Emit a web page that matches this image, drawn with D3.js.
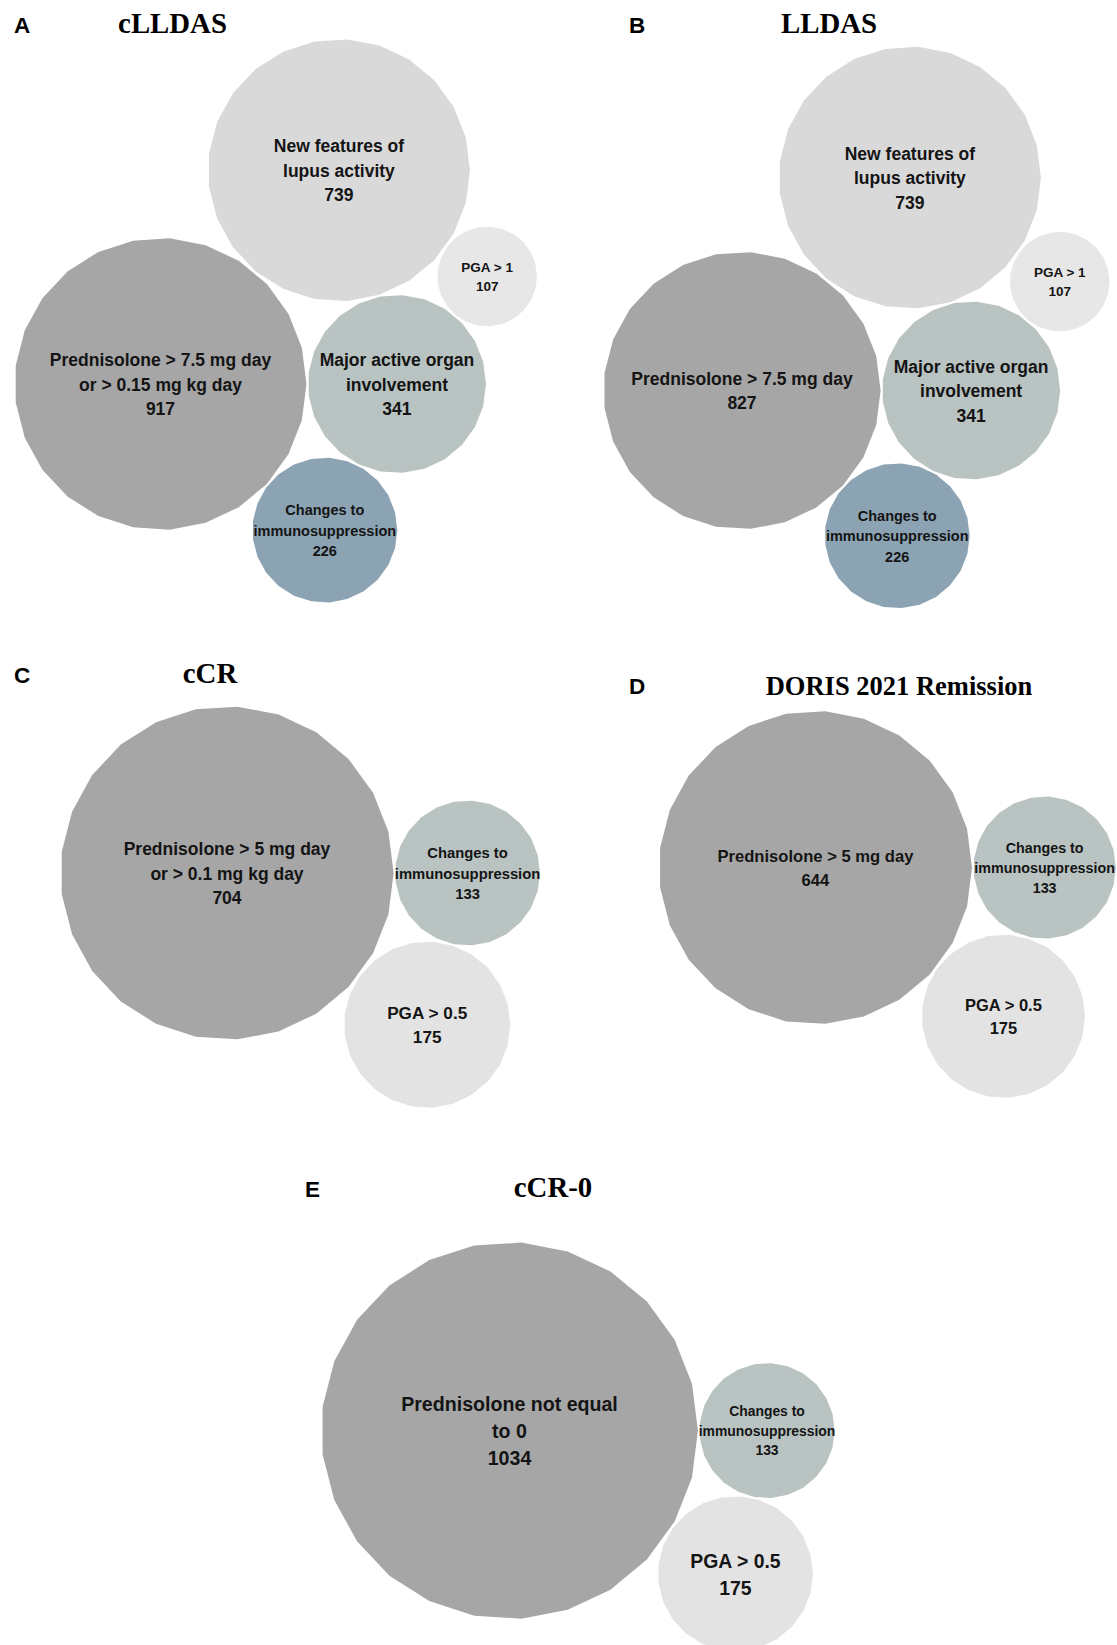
<!DOCTYPE html>
<html><head><meta charset="utf-8">
<script src="https://cdn.jsdelivr.net/npm/d3@7"></script>
<style>html,body{margin:0;padding:0;background:#fff;} svg{display:block;}</style>
</head><body>
<svg id="chart" width="1117" height="1645"></svg>
<script>
// ---------------- data ----------------
const panelLetters = ["A", "B", "C", "D", "E"];
const panelTitles = ["cLLDAS", "LLDAS", "cCR", "DORIS 2021 Remission", "cCR-0"];

const categoriesA = ["Prednisolone > 7.5 mg day\nor > 0.15 mg kg day", "Major active organ\ninvolvement", "New features of\nlupus activity", "Changes to\nimmunosuppression", "PGA > 1"];
const valuesA = [917, 341, 739, 226, 107];

const categoriesB = ["Prednisolone > 7.5 mg day", "Major active organ\ninvolvement", "New features of\nlupus activity", "Changes to\nimmunosuppression", "PGA > 1"];
const valuesB = [827, 341, 739, 226, 107];

const categoriesC = ["Prednisolone > 5 mg day\nor > 0.1 mg kg day", "Changes to\nimmunosuppression", "PGA > 0.5"];
const valuesC = [704, 133, 175];

const categoriesD = ["Prednisolone > 5 mg day", "Changes to\nimmunosuppression", "PGA > 0.5"];
const valuesD = [644, 133, 175];

const categoriesE = ["Prednisolone not equal\nto 0", "Changes to\nimmunosuppression", "PGA > 0.5"];
const valuesE = [1034, 133, 175];

// ---------------- style / layout ----------------
const C = {
  pred: "#a6a6a6", major: "#b9c3c1", nf: "#d9d9d9",
  chBlue: "#8ba3b3", chGrey: "#b9c3c1", pga1: "#e7e7e7", pga05: "#e3e3e3"
};
// layout rules: first circle at anchor; {right:i} = tangent to the right of circle i;
// {between:[i,j], side} = tangent to both circles i and j
const bigLayout = [null, {right: 0}, {between: [0, 1], side: -1}, {between: [0, 1], side: 1}, {between: [2, 1], side: -1}];
const smallLayout = [null, {right: 0}, {between: [0, 1], side: 1}];

const panels = [
  {cats: categoriesA, vals: valuesA, unit: 4.82, anchor: [160.5, 384], letterPos: [14, 33], titlePos: [172.5, 33], titleSize: 28.8,
   layout: bigLayout, fills: [C.pred, C.major, C.nf, C.chBlue, C.pga1], fonts: [17.5, 17.5, 17.5, 14.5, 13.5]},
  {cats: categoriesB, vals: valuesB, unit: 4.82, anchor: [742, 390.5], letterPos: [629, 33], titlePos: [829, 33], titleSize: 28.8,
   layout: bigLayout, fills: [C.pred, C.major, C.nf, C.chBlue, C.pga1], fonts: [17.5, 17.5, 17.5, 14.5, 13.5]},
  {cats: categoriesC, vals: valuesC, unit: 6.28, anchor: [227, 873], letterPos: [14, 683], titlePos: [210, 683], titleSize: 28.8,
   layout: smallLayout, fills: [C.pred, C.chGrey, C.pga05], fonts: [17.5, 14.8, 17.2]},
  {cats: categoriesD, vals: valuesD, unit: 6.17, anchor: [815.4, 867.6], letterPos: [629, 694], titlePos: [899, 695], titleSize: 26.5,
   layout: smallLayout, fills: [C.pred, C.chGrey, C.pga05], fonts: [16.6, 14.3, 16.5]},
  {cats: categoriesE, vals: valuesE, unit: 5.86, anchor: [509.5, 1430.6], letterPos: [305, 1197], titlePos: [553, 1197], titleSize: 28.8,
   layout: smallLayout, fills: [C.pred, C.chGrey, C.pga05], fonts: [19.6, 13.9, 19.4]}
];

const GAP = 1.5;
const NSIDES = 25;

const svg = d3.select("#chart");
svg.append("rect").attr("width", 1117).attr("height", 1645).attr("fill", "#fff");

function tangentTo2(a, b, r, side) {
  const dx = b.x - a.x, dy = b.y - a.y, d = Math.hypot(dx, dy);
  const ra = a.r + r + GAP, rb = b.r + r + GAP;
  const t = (ra * ra - rb * rb + d * d) / (2 * d);
  const h = Math.sqrt(Math.max(0, ra * ra - t * t));
  const ux = dx / d, uy = dy / d;
  return {x: a.x + t * ux - side * h * uy, y: a.y + t * uy + side * h * ux};
}

const polyLine = d3.line().curve(d3.curveLinearClosed);

panels.forEach((p, pi) => {
  const rScale = d3.scaleSqrt().domain([0, 1000]).range([0, p.unit * Math.sqrt(1000)]);
  const nodes = p.vals.map((v, i) => ({v, r: rScale(v), label: p.cats[i], fill: p.fills[i], fs: p.fonts[i]}));
  nodes.forEach((n, i) => {
    const rule = p.layout[i];
    if (!rule) { n.x = p.anchor[0]; n.y = p.anchor[1]; }
    else if (rule.right !== undefined) {
      const a = nodes[rule.right];
      n.x = a.x + a.r + n.r + GAP; n.y = a.y;
    } else {
      const pos = tangentTo2(nodes[rule.between[0]], nodes[rule.between[1]], n.r, rule.side);
      n.x = pos.x; n.y = pos.y;
    }
  });

  const g = svg.append("g");
  g.selectAll("path.bubble").data(nodes).join("path")
    .attr("class", "bubble")
    .attr("fill", d => d.fill)
    .attr("d", d => polyLine(d3.range(NSIDES).map(k => {
      const ang = 2 * Math.PI * k / NSIDES;
      return [d.x + d.r * Math.cos(ang), d.y + d.r * Math.sin(ang)];
    })));

  nodes.forEach(d => {
    const lines = d.label.split("\n").concat([String(d.v)]);
    const lh = d.fs * 1.4;
    const t = g.append("text")
      .attr("text-anchor", "middle")
      .attr("font-family", "'Liberation Sans', Arial, sans-serif")
      .attr("font-weight", "bold")
      .attr("font-size", d.fs)
      .attr("fill", "#141414");
    lines.forEach((ln, i) => {
      t.append("tspan")
        .attr("x", d.x)
        .attr("y", d.y + (i - (lines.length - 1) / 2) * lh)
        .attr("dy", "0.38em")
        .text(ln);
    });
  });

  svg.append("text")
    .attr("x", p.letterPos[0]).attr("y", p.letterPos[1])
    .attr("font-family", "'Liberation Sans', Arial, sans-serif")
    .attr("font-weight", "bold").attr("font-size", 22.5).attr("fill", "#000")
    .text(panelLetters[pi]);
  svg.append("text")
    .attr("x", p.titlePos[0]).attr("y", p.titlePos[1])
    .attr("text-anchor", "middle")
    .attr("font-family", "'Liberation Serif', 'Times New Roman', serif")
    .attr("font-weight", "bold").attr("font-size", p.titleSize).attr("fill", "#000")
    .text(panelTitles[pi]);
});
</script>
</body></html>
